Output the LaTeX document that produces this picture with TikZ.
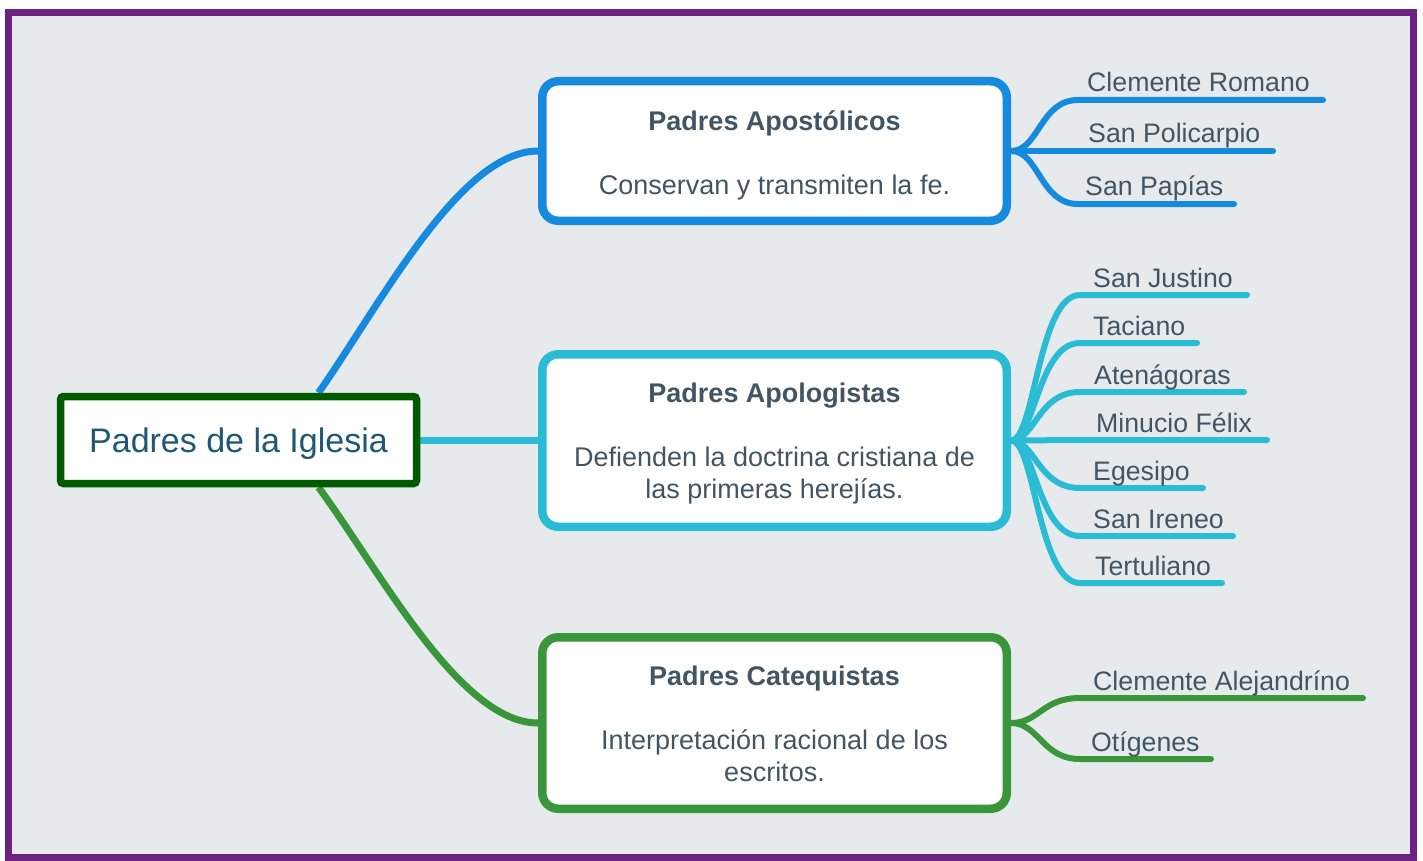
\documentclass[tikz,border=0pt]{standalone}
\usepackage{fontspec}
\setmainfont{Liberation Sans}
\usetikzlibrary{backgrounds}
\definecolor{cblue}{HTML}{168ADF}
\definecolor{ccyan}{HTML}{29BCD4}
\definecolor{cgreen}{HTML}{3A963A}
\definecolor{cdark}{HTML}{005A00}
\definecolor{cpurple}{HTML}{6C2183}
\definecolor{cbg}{HTML}{E7EAED}
\definecolor{txt}{HTML}{435563}
\definecolor{roottxt}{HTML}{1F5873}
\begin{document}
\begin{tikzpicture}[x=1pt,y=-1pt,
  box/.style={draw, line width=8.5pt, rounded corners=16pt, fill=white,
    minimum width=464.5pt, align=center, text=txt, inner sep=0pt,
    font=\fontsize{27}{32}\selectfont},
  rootbox/.style={draw=cdark, line width=7.5pt, rounded corners=3pt, fill=white,
    minimum width=356pt, minimum height=87pt, text=roottxt, inner sep=0pt,
    text height=31pt, text depth=7pt,
    font=\fontsize{34}{40}\selectfont},
  leaf/.style={anchor=base west, text=txt, inner sep=0pt, font=\fontsize{26.7}{30}\selectfont},
  mainline/.style={line width=7pt},
  branch/.style={line width=6pt, line cap=round},
]
\useasboundingbox (0,0) rectangle (1423,861);

% nodes
\node[rootbox] (root) at (238.5,440) {Padres de la Iglesia};
\node[box, draw=cblue, minimum height=139.5pt, text height=92pt, text depth=6pt] (b1) at (774.5,151)
  {\textbf{Padres Apostólicos}\\[32pt]Conservan y transmiten la fe.};
\node[box, draw=ccyan, minimum height=172.5pt, text height=121pt, text depth=6pt] (b2) at (774.5,440.5)
  {\textbf{Padres Apologistas}\\[32pt]Defienden la doctrina cristiana de\\las primeras herejías.};
\node[box, draw=cgreen, minimum height=171.5pt, text height=122pt, text depth=6pt] (b3) at (774.5,723)
  {\textbf{Padres Catequistas}\\[32pt]Interpretación racional de los\\escritos.};

% leaf coordinates and labels
\coordinate (a1s) at (1078,100); \coordinate (a1e) at (1323,100);
\coordinate (a2s) at (1078,151); \coordinate (a2e) at (1273,151);
\coordinate (a3s) at (1078,204); \coordinate (a3e) at (1234,204);
\node[leaf] (a1) at (1087,92) {Clemente Romano};
\node[leaf] (a2) at (1088,143) {San Policarpio};
\node[leaf] (a3) at (1085,196) {San Papías};

\coordinate (p1s) at (1080,295); \coordinate (p1e) at (1247,295);
\coordinate (p2s) at (1080,343); \coordinate (p2e) at (1197,343);
\coordinate (p3s) at (1080,392); \coordinate (p3e) at (1244,392);
\coordinate (p4s) at (1080,440); \coordinate (p4e) at (1267,440);
\coordinate (p5s) at (1080,488); \coordinate (p5e) at (1203,488);
\coordinate (p6s) at (1080,536); \coordinate (p6e) at (1233,536);
\coordinate (p7s) at (1080,583); \coordinate (p7e) at (1222,583);
\node[leaf] (p1) at (1093,287) {San Justino};
\node[leaf] (p2) at (1093,335) {Taciano};
\node[leaf] (p3) at (1094,384) {Atenágoras};
\node[leaf] (p4) at (1096,432) {Minucio Félix};
\node[leaf] (p5) at (1093,480) {Egesipo};
\node[leaf] (p6) at (1093,528) {San Ireneo};
\node[leaf] (p7) at (1095,575) {Tertuliano};

\coordinate (q1s) at (1080,698); \coordinate (q1e) at (1363,698);
\coordinate (q2s) at (1080,759); \coordinate (q2e) at (1211,759);
\node[leaf] (q1) at (1093,690) {Clemente Alejandríno};
\node[leaf] (q2) at (1091,751) {Otígenes};

\begin{scope}[on background layer]
  % frame
  \draw[cpurple, line width=7pt, fill=cbg] (8.5,12.5) rectangle (1413,857.5);
  % main connectors
  \draw[mainline, cblue] ([xshift=80pt]root.north) .. controls (380,305) and (460,151) .. (b1.west);
  \draw[mainline, ccyan] (root.east) -- (root.east -| b2.west);
  \draw[mainline, cgreen] ([xshift=80pt]root.south) .. controls (380,571) and (460,723) .. (b3.west);
  % branches of b1
  \draw[branch, cblue] (b1.east) .. controls +(28,0) and +(-38,0) .. (a1s) -- (a1e);
  \draw[branch, cblue] (b1.east) -- (a2s) -- (a2e);
  \draw[branch, cblue] (b1.east) .. controls +(28,0) and +(-38,0) .. (a3s) -- (a3e);
  % branches of b2
  \draw[branch, ccyan] (b2.east) .. controls +(24,0) and +(-42,0) .. (p1s) -- (p1e);
  \draw[branch, ccyan] (b2.east) .. controls +(24,0) and +(-42,0) .. (p2s) -- (p2e);
  \draw[branch, ccyan] (b2.east) .. controls +(24,0) and +(-42,0) .. (p3s) -- (p3e);
  \draw[branch, ccyan] (b2.east) -- (p4s) -- (p4e);
  \draw[branch, ccyan] (b2.east) .. controls +(24,0) and +(-42,0) .. (p5s) -- (p5e);
  \draw[branch, ccyan] (b2.east) .. controls +(24,0) and +(-42,0) .. (p6s) -- (p6e);
  \draw[branch, ccyan] (b2.east) .. controls +(24,0) and +(-42,0) .. (p7s) -- (p7e);
  % branches of b3
  \draw[branch, cgreen] (b3.east) .. controls +(28,0) and +(-38,0) .. (q1s) -- (q1e);
  \draw[branch, cgreen] (b3.east) .. controls +(28,0) and +(-38,0) .. (q2s) -- (q2e);
\end{scope}
\end{tikzpicture}
\end{document}
